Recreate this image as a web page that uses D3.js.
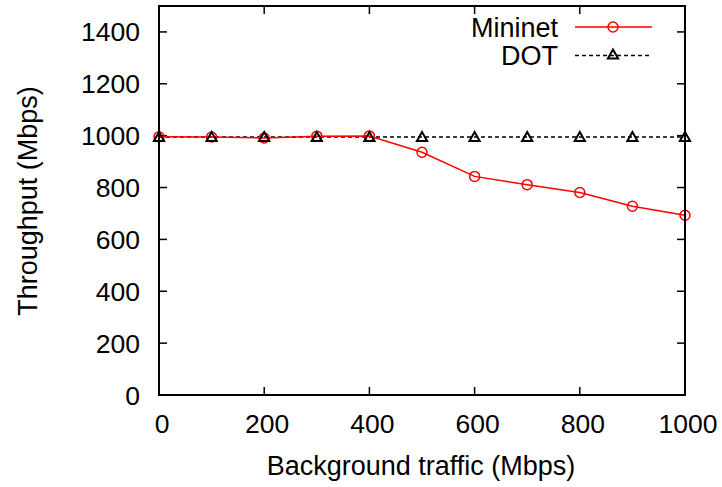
<!DOCTYPE html>
<html><head><meta charset="utf-8">
<script src="https://cdn.jsdelivr.net/npm/d3@7"></script>
<style>body{margin:0;background:#fff}svg{display:block}text{font-family:"Liberation Sans",Arial,sans-serif}</style>
</head><body>
<svg id="c" width="722" height="487"></svg>
<script>
const traffic = [0,100,200,300,400,500,600,700,800,900,1000];
const mininet = [996,995,991,998,999,936,843,811,781,728,693];
const dot = [995,995,995,995,995,995,995,995,995,995,995];
const xTicks = [0,200,400,600,800,1000];
const yTicks = [0,200,400,600,800,1000,1200,1400];

const svg = d3.select("#c");
const L=159,R=685,T=6,B=395;
const x = d3.scaleLinear().domain([0,1000]).range([L,R]);
const y = d3.scaleLinear().domain([0,1500]).range([B,T]);
const fs = 26.5, fst = 27;

const g = svg.append("g");
const tl = 8;
xTicks.forEach(v=>{
  g.append("line").attr("x1",x(v)).attr("x2",x(v)).attr("y1",B).attr("y2",B-tl).attr("stroke","#000").attr("stroke-width",1.5);
  g.append("line").attr("x1",x(v)).attr("x2",x(v)).attr("y1",T).attr("y2",T+tl).attr("stroke","#000").attr("stroke-width",1.5);
  g.append("text").attr("x",x(v)+3).attr("y",B+38).attr("text-anchor","middle").attr("font-size",fs).text(v);
});
yTicks.forEach(v=>{
  g.append("line").attr("x1",L).attr("x2",L+tl).attr("y1",y(v)).attr("y2",y(v)).attr("stroke","#000").attr("stroke-width",1.5);
  g.append("line").attr("x1",R).attr("x2",R-tl).attr("y1",y(v)).attr("y2",y(v)).attr("stroke","#000").attr("stroke-width",1.5);
  g.append("text").attr("x",L-19).attr("y",y(v)+9.5).attr("text-anchor","end").attr("font-size",fs).text(v);
});

const line = d3.line().x((d,i)=>x(traffic[i])).y(d=>y(d));
g.append("path").datum(dot).attr("d",line).attr("fill","none").attr("stroke","#000").attr("stroke-width",1.5).attr("stroke-dasharray","4,3");
g.append("path").datum(mininet).attr("d",line).attr("fill","none").attr("stroke","#f00").attr("stroke-width",1.5);
const tri = d3.symbol().type(d3.symbolTriangle).size(45);
function triangle(sel,cx,cy){
  sel.append("path").attr("d",tri()).attr("transform",`translate(${cx},${cy+1})`).attr("fill","none").attr("stroke","#000").attr("stroke-width",2);
}
function circ(sel,cx,cy){
  sel.append("circle").attr("cx",cx).attr("cy",cy).attr("r",5).attr("fill","none").attr("stroke","#f00").attr("stroke-width",1.5);
}
mininet.forEach((d,i)=>circ(g,x(traffic[i]),y(d)));
dot.forEach((d,i)=>triangle(g,x(traffic[i]),y(d)));

g.append("rect").attr("x",L).attr("y",T).attr("width",R-L).attr("height",B-T).attr("fill","none").attr("stroke","#000").attr("stroke-width",2);

const lg = svg.append("g");
lg.append("text").attr("x",558).attr("y",37).attr("text-anchor","end").attr("font-size",fst).text("Mininet");
lg.append("line").attr("x1",575).attr("x2",652).attr("y1",27).attr("y2",27).attr("stroke","#f00").attr("stroke-width",1.5);
circ(lg,613,27);
lg.append("text").attr("x",558).attr("y",65).attr("text-anchor","end").attr("font-size",fst).text("DOT");
lg.append("line").attr("x1",575).attr("x2",652).attr("y1",55.5).attr("y2",55.5).attr("stroke","#000").attr("stroke-width",1.5).attr("stroke-dasharray","4,3");
triangle(lg,613,54.5);

svg.append("text").attr("x",421).attr("y",475).attr("text-anchor","middle").attr("font-size",fst).text("Background traffic (Mbps)");
svg.append("text").attr("transform","translate(37,201) rotate(-90)").attr("text-anchor","middle").attr("font-size",fst).text("Throughput (Mbps)");
</script>
</body></html>
